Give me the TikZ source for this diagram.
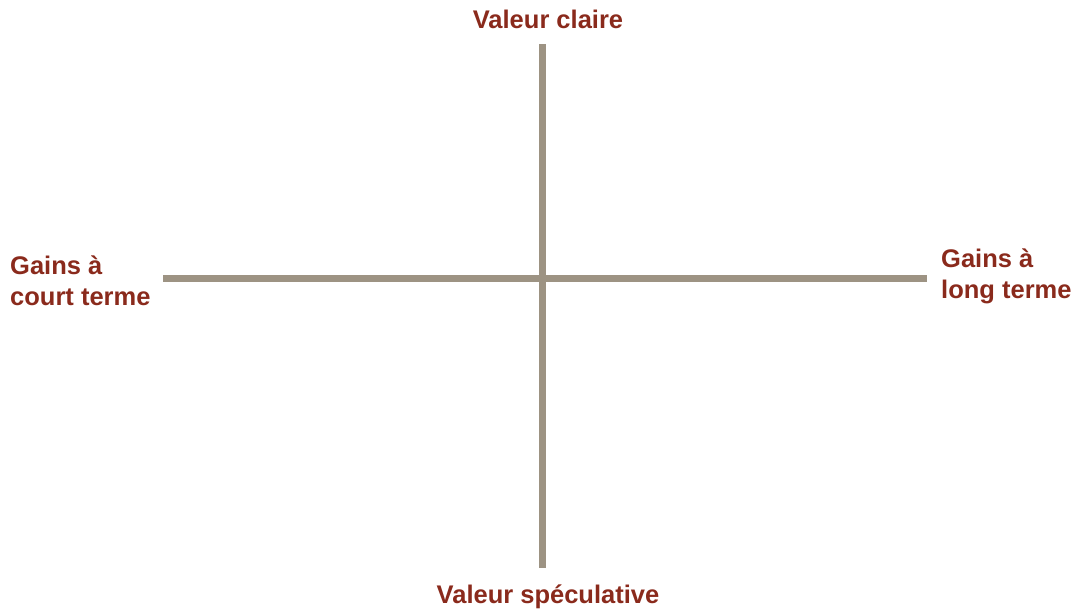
\documentclass[tikz,border=0pt]{standalone}
\usepackage{fontspec}
\setmainfont{Liberation Sans}
\usepackage{tikz}
\usetikzlibrary{positioning}
\definecolor{labelColor}{HTML}{8A2A1C}
\definecolor{axisColor}{HTML}{9D9383}

\begin{document}
\begin{tikzpicture}[x=1pt, y=-1pt,
    axis/.style={axisColor, line width=7pt},
    pole/.style={labelColor, font=\bfseries\fontsize{25.5}{31}\selectfont, inner sep=0pt, align=left}]
    \useasboundingbox (0,0) rectangle (1076,611);
    % ends of the two axes
    \coordinate (top) at (542,44);
    \coordinate (bottom) at (542,568);
    \coordinate (left) at (163,278);
    \coordinate (right) at (927,278);
    \draw[axis] (left) -- (right);
    \draw[axis] (top) -- (bottom);
    % the four poles
    \node[pole, anchor=base] (clear) at (548,28) {Valeur claire};
    \node[pole, anchor=base] (spec) at (548,603) {Valeur spéculative};
    \node[pole, anchor=west] (short) at (10,281) {Gains à\\court terme};
    \node[pole, anchor=west] (long) at (941,276) {Gains à\\long terme};
\end{tikzpicture}
\end{document}
